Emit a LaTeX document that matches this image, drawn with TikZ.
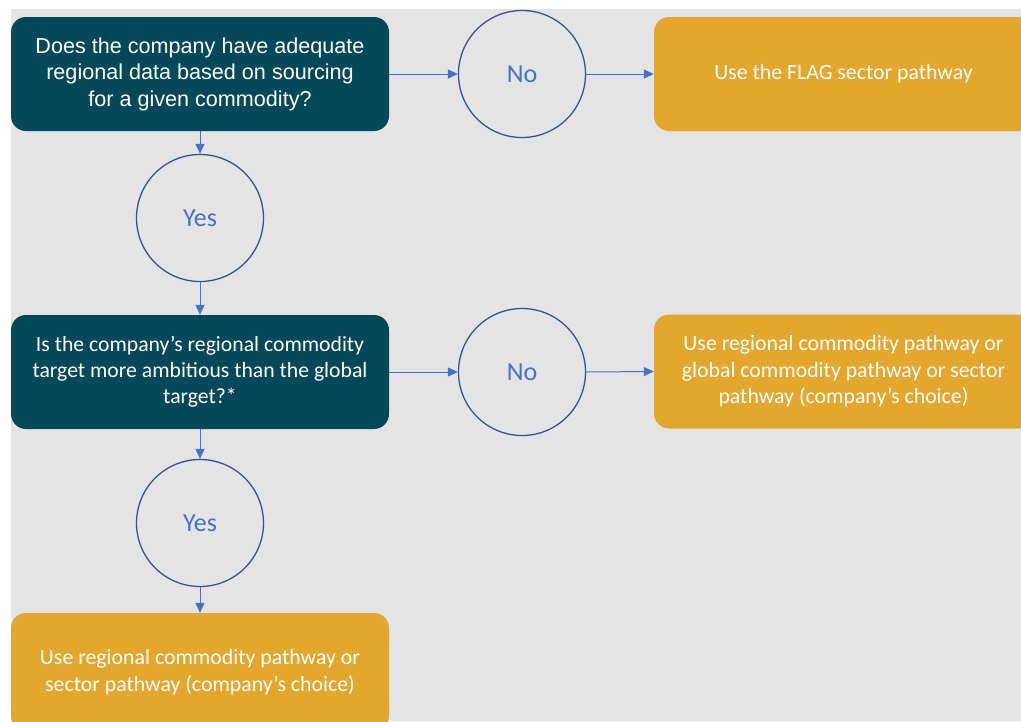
\documentclass[tikz,border=0pt]{standalone}
\usepackage{fontspec}
\setmainfont{Carlito}
\newfontfamily\arialf{Liberation Sans}
\usetikzlibrary{arrows.meta}
\definecolor{bggray}{RGB}{228,228,228}
\definecolor{teal}{RGB}{4,72,90}
\definecolor{gold}{RGB}{227,167,46}
\definecolor{arrowblue}{RGB}{68,114,196}
\definecolor{circblue}{RGB}{47,85,151}
\tikzset{
  qbox/.style={fill=teal, rounded corners=15pt, minimum width=378pt, minimum height=114pt, align=center, text=white, inner sep=0pt},
  abox/.style={fill=gold, rounded corners=15pt, minimum width=379pt, minimum height=114pt, align=center, text=white, inner sep=0pt, font=\fontsize{21.8}{26.5}\selectfont},
  ans/.style={circle, draw=circblue, line width=1.3pt, minimum size=127pt, inner sep=0pt, text=arrowblue, font=\fontsize{26}{28}\selectfont},
  flow/.style={draw=arrowblue, line width=1pt, -{Triangle[length=10pt,width=9pt]}}
}
\begin{document}
\begin{tikzpicture}[x=1pt,y=-1pt]
\useasboundingbox (0,0) rectangle (1021,721);
\clip (0,0) rectangle (1021,721);
\fill[bggray] (11,9) rectangle (1021,721);
\node[qbox, font=\arialf\fontsize{21.6}{26.5}\selectfont] (q1) at (200,74) {Does the company have adequate\\regional data based on sourcing\\for a given commodity?};
\node[ans] (no1) at (522,74) {No};
\node[abox] (a1) at (843.5,74) {Use the FLAG sector pathway};
\node[ans] (yes1) at (200,218) {Yes};
\node[qbox, font=\fontsize{21.7}{26}\selectfont] (q2) at (200,372) {Is the company’s regional commodity\\target more ambitious than the global\\target?*};
\node[ans] (no2) at (522,372) {No};
\node[abox] (a2) at (843.5,371.5) {Use regional commodity pathway or\\global commodity pathway or sector\\pathway (company’s choice)};
\node[ans] (yes2) at (200,523) {Yes};
\node[abox, minimum width=378pt, minimum height=118pt] (a3) at (200,672) {Use regional commodity pathway or\\sector pathway (company’s choice)};
\draw[flow] (q1.east) -- (no1.west);
\draw[flow] (no1.east) -- (a1.west);
\draw[flow] (q1.south) -- (yes1.north);
\draw[flow] (yes1.south) -- (q2.north);
\draw[flow] (q2.east) -- (no2.west);
\draw[flow] (no2.east) -- (a2.west);
\draw[flow] (q2.south) -- (yes2.north);
\draw[flow] (yes2.south) -- (a3.north);
\end{tikzpicture}
\end{document}
